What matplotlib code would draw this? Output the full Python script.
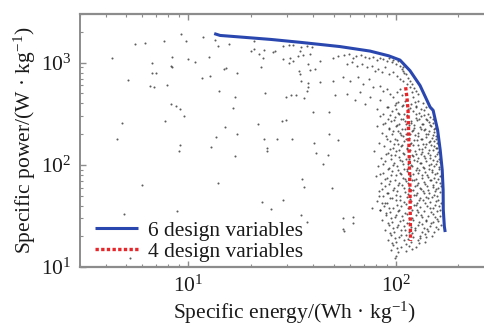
import matplotlib
matplotlib.use("Agg")
import matplotlib.pyplot as plt
from matplotlib.ticker import LogLocator, NullFormatter

plt.rcParams['font.family'] = ['Liberation Serif', 'DejaVu Serif']
plt.rcParams['mathtext.fontset'] = 'custom'
plt.rcParams['mathtext.rm'] = 'Liberation Serif'
plt.rcParams['mathtext.it'] = 'Liberation Serif:italic'
plt.rcParams['mathtext.bf'] = 'Liberation Serif:bold'

# ---------------- data ----------------
front6_energy = [13.3, 14.2, 17.5, 25, 35, 53.6, 75, 92.2, 104.5, 116.8, 130.6, 146, 151,
                 158.7, 163.3, 167, 168.7, 169, 171, 172.6]
front6_power = [1930, 1850, 1790, 1690, 1580, 1440, 1300, 1169, 1062, 836, 598, 368, 342,
                219, 140, 89.4, 57.1, 36.5, 25, 22]

front4_energy = [111.3, 113, 114.3, 115.5, 116.8, 117.5]
front4_power = [576, 450, 342, 150, 57, 18]

# sparse part of the cloud (left / top)
sparse_energy = [4.3, 5.5, 6.2, 7.6, 9.2, 9.7, 11.8, 13.4, 13.9, 15.7, 8.3, 9.9, 10.7, 12.6,
                 6.7, 8.2, 8.3, 6.7, 7.0, 5.1, 11.6, 12.7, 14.8, 15.2, 17.1, 6.5, 6.8, 7.9,
                 14.1, 16.7, 8.2, 8.7, 9.1, 16.4, 9.5, 7.7, 4.8, 15.0, 17.2, 13.6, 4.5, 9.1,
                 9.0, 12.9, 16.7, 13.8, 6.0, 4.9, 8.8, 5.2,
                 20.8, 20.1, 20.6, 21.9, 23, 22.9, 25.4, 26, 28.5, 30.4, 31.9, 34.7, 37.1,
                 39.2, 34.3, 28.5, 30.8, 31.9, 30.5, 33.7, 35.7, 38.5, 37.7, 43, 22.4, 34.1,
                 34.3, 38.5, 40.6, 35, 37.7, 37.7, 37.1, 43, 49.8, 49.8, 52.6, 50.7, 23.5,
                 29.6, 31.1, 33.1, 35.9, 39.8, 47.6, 28.3, 29.6, 21.6, 23, 26.7, 31.7, 40.2,
                 47.6, 23.9, 52.6, 23.8, 41.1, 47.1, 44.6, 35.2, 35.9, 48.9, 22.7, 28.5,
                 25.1, 35, 37.1, 55.6, 61.8, 62.2, 55.3, 56, 76.4, 83.7, 85.3, 83, 98.9]
sparse_power = [1125, 1520, 1570, 1640, 1900, 1640, 1800, 1670, 1470, 1520, 1150, 1080, 1015,
                1150, 985, 935, 900, 800, 800, 675, 710, 745, 860, 890, 795, 590, 580, 600,
                525, 460, 390, 380, 350, 357, 300, 270, 255, 235, 200, 186, 178, 157,
                136, 148, 122, 67, 63, 33, 35, 12.3,
                1640, 1310, 1360, 1215, 1340, 1125, 1280, 1310, 1460, 1500, 1500, 1410, 1460,
                1410, 1290, 1085, 1125, 1045, 1005, 1170, 1195, 1215, 970, 1045, 915, 825,
                777, 850, 870, 668, 635, 575, 534, 644, 1125, 668, 1170, 479, 503,
                460, 479, 479, 454, 329, 329, 269, 278, 254, 181, 180, 180, 165,
                199, 145, 175, 138, 132, 124, 102, 72.6, 60.7, 58.9, 43, 45.7,
                37.2, 32.2, 27.8, 30.4, 30.8, 26.7, 23.8, 22.5, 38, 36.5, 42.5, 49.2, 12.2]

# upper part of the dense cloud (near the knee of the front)
upper_energy = [56.0, 59.5, 61.8, 64.1, 67.5, 70.9, 74.3, 77.7, 80.7, 83.7, 86.8, 90.2, 92.8,
                95.3, 97, 100, 102.6, 104.5, 108.4, 108, 106.9, 111.7, 109.3, 114.3, 116.8,
                119.4, 122.1, 124.9, 127.7,
                57.8, 61.1, 64.6, 68.3, 72.2, 76.3, 79.2, 82.1, 85.3, 88.5, 92.8, 97, 100.8,
                104.5, 108.4, 112.6, 116.8, 119, 121.2, 123.5, 124.9, 55.6, 60, 65.7, 69.6,
                74.3, 77.7, 83.7, 86.8, 90.2, 93.5, 97, 100.8, 104.5, 106.5, 102.6, 98.9,
                108.4, 112.6, 114.3, 83.7, 74.9, 67, 63.4, 57.8, 70.9, 80.7, 90.2]
upper_power = [1195, 1215, 1125, 1170, 1195, 1145, 1110, 1145, 1060, 1125, 1085, 1045, 1110,
               1007, 1062, 972, 1030, 935, 900, 836, 874, 773, 800, 715, 668,
               618, 572, 534, 494,
               972, 1007, 935, 972, 900, 935, 836, 868, 806, 900, 777, 806, 748,
               694, 668, 621, 576, 514, 460, 411, 368, 720, 668, 720, 621,
               694, 576, 598, 534, 555, 497, 460, 514, 555, 478, 411, 382,
               382, 427, 355, 427, 460, 514, 427, 497, 397, 355, 368]

# middle part of the dense cloud
middle_energy = [100.0, 110.5, 118.1, 127.7, 135.1,
                 91.5, 100.0, 106.9, 116.8, 124.9, 132.1, 139.7,
                 86.5, 95.7, 102.3, 109.3, 120.8, 129.2, 136.6, 142.8,
                 83.7, 91.5, 98.9, 105.7, 113.0, 124.9, 132.1, 139.7, 146.0,
                 88.5, 94.6, 103.4, 110.5, 118.1, 126.3, 135.1, 144.4, 151.0,
                 81.0, 92.5, 100.0, 106.9, 115.5, 122.1, 130.6, 138.1, 147.7, 154.4,
                 85.6, 96.7, 104.5, 111.8, 119.5, 127.7, 136.6, 142.8, 152.7,
                 89.5, 98.9, 108.1, 115.5, 123.5, 132.1, 139.7, 149.3, 156.1,
                 82.8, 93.5, 102.3, 109.3, 118.1, 126.3, 135.1, 144.4, 152.7, 157.9,
                 87.5, 96.7, 105.7, 113.0, 120.8, 129.2, 138.1, 147.7, 156.1,
                 78.3, 91.5, 100.0, 108.1, 116.8, 124.9, 133.6, 142.8, 151.0, 159.7,
                 84.6, 94.6, 103.4, 111.8, 119.5, 127.7, 136.6, 146.0, 154.4,
                 88.5, 97.8, 106.9, 114.3, 122.1, 130.6, 139.7, 147.7, 157.9, 163.3,
                 81.9, 92.5, 101.1, 109.3, 118.1, 126.3, 135.1, 144.4, 152.7, 161.5,
                 86.5, 95.7, 104.5, 113.0, 120.8, 129.2, 138.1, 149.3, 157.9,
                 80.1, 90.5, 100.0, 108.1, 116.8, 124.9, 133.6, 142.8, 152.7, 163.3,
                 84.6, 93.5, 103.4, 111.8, 119.5, 127.7, 136.6, 146.0, 156.1,
                 88.5, 97.8, 106.9, 115.5, 123.5, 132.1, 141.2, 151.0, 159.7, 165.1]
middle_power = [400, 425, 395, 418, 404,
                372, 355, 380, 360, 374, 352, 368,
                318, 340, 325, 312, 336, 322, 342, 315,
                300, 284, 297, 280, 305, 288, 299, 283, 294,
                255, 270, 250, 266, 258, 272, 252, 264, 257,
                240, 228, 238, 225, 243, 230, 236, 226, 241, 232,
                203, 216, 206, 200, 214, 204, 218, 201, 211,
                192, 180, 190, 183, 195, 179, 189, 184, 193,
                163, 172, 160, 170, 165, 174, 161, 168, 171, 162,
                154, 145, 152, 147, 157, 144, 151, 155, 146,
                138, 130, 137, 131, 140, 129, 135, 132, 139, 133,
                117, 124, 119, 115, 125, 118, 122, 116, 123,
                110, 104, 109, 103, 111, 105, 108, 102, 110, 106,
                98, 93, 97, 92, 99, 94, 96, 91, 98, 95,
                83, 88, 84, 87, 82, 89, 85, 86, 83,
                78, 74, 79, 75, 77, 73, 80, 76, 74, 78,
                67, 70, 66, 69.5, 71, 66.5, 68, 70.5, 67.5,
                62, 59.5, 63, 60, 61.5, 58.5, 62.5, 60.5, 59, 62]

# lower part of the dense cloud
lower_energy = [82.8, 91.5, 101.1, 110.5, 118.1, 126.3, 135.1, 144.4, 154.4, 163.3,
                86.5, 95.7, 104.5, 113.0, 122.1, 130.6, 139.7, 149.3, 157.9,
                81.0, 90.5, 100.0, 109.3, 118.1, 126.3, 135.1, 146.0, 156.1, 165.1,
                87.5, 96.7, 105.7, 114.3, 122.1, 130.6, 141.2, 151.0, 161.5,
                83.7, 93.5, 102.3, 110.5, 119.5, 127.7, 136.6, 147.7, 157.9,
                89.5, 98.9, 106.9, 115.5, 124.9, 133.6, 142.8, 154.4, 163.3,
                85.6, 95.7, 104.5, 113.0, 120.8, 129.2, 139.7, 151.0, 159.7,
                92.5, 101.1, 109.3, 118.1, 127.7, 136.6, 146.0, 156.1, 165.1,
                88.5, 97.8, 105.7, 115.5, 123.5, 133.6, 142.8, 152.7,
                94.6, 103.4, 111.8, 120.8, 130.6, 139.7, 149.3,
                91.5, 100.0, 109.3, 118.1, 127.7, 138.1,
                96.7, 105.7, 115.5, 124.9,
                94.6, 102.3, 111.8,
                100.0]
lower_power = [56, 53, 55.5, 54, 56.5, 53.5, 55, 52.5, 56, 54,
               50, 47.5, 49.5, 48, 50.5, 47, 49, 48.5, 50,
               44.5, 42.5, 45, 43, 44, 42, 45.5, 43.5, 44, 42.8,
               40, 38.2, 39.5, 38, 40.3, 38.5, 39.8, 37.8, 40,
               35.8, 34.2, 35.5, 34, 36, 34.5, 35.2, 34.8, 35.6,
               32, 30.6, 31.8, 30.5, 32.2, 30.8, 31.5, 30.9, 31.9,
               28.6, 27.4, 28.4, 27.2, 28.8, 27.5, 28.2, 27.8, 28.5,
               25.6, 24.4, 25.4, 24.5, 25.8, 24.3, 25.2, 24.7, 25.5,
               22.9, 21.9, 22.8, 22, 23, 21.8, 22.6, 22.2,
               20.5, 19.6, 20.4, 19.5, 20.3, 19.8, 20.2,
               18.3, 17.5, 18.2, 17.6, 18.4, 17.7,
               16.3, 15.7, 16.2, 15.8,
               14.6, 14.0, 14.5,
               12.9]

# extra points filling the densest band just inside the front
band_energy = [93.5, 103.4, 113.0, 124.9, 136.6,
               97.8, 108.1, 118.1, 129.2, 141.2, 151.0,
               86.5, 101.1, 111.8, 122.1, 133.6, 146.0,
               92.5, 102.3, 110.5, 120.8, 132.1, 144.4, 152.7,
               95.7, 105.7, 116.8, 127.7, 139.7, 151.0,
               90.5, 101.1, 111.8, 122.1, 133.6, 146.0, 156.1,
               97.8, 106.9, 116.8, 127.7, 139.7, 152.7,
               93.5, 103.4, 113.0, 123.5, 133.6, 144.4, 157.9,
               89.5, 98.9, 109.3, 120.8, 132.1, 146.0, 157.9,
               94.6, 104.5, 115.5, 126.3, 138.1, 151.0, 161.5,
               86.5, 96.7, 108.1, 119.5, 132.1, 144.4, 156.1,
               91.5, 102.3, 113.0, 124.9, 136.6, 149.3, 161.5,
               83.7, 94.6, 105.7, 116.8, 127.7, 141.2, 154.4,
               88.5, 98.9, 110.5, 122.1, 133.6, 147.7, 159.7,
               92.5, 102.3, 114.3, 126.3, 138.1, 151.0, 163.3,
               85.6, 96.7, 109.3, 120.8, 130.6, 142.8, 156.1,
               90.5, 100.0, 114.3, 124.9, 136.6, 152.7,
               93.5, 104.5, 116.8, 129.2, 142.8, 159.7,
               88.5, 101.1, 111.8, 124.9, 138.1, 154.4,
               92.5, 103.4, 115.5, 126.3, 146.0, 163.3,
               89.5, 100.0, 113.0, 132.1, 151.0,
               94.6, 108.1, 119.5, 139.7, 157.9,
               91.5, 102.3, 115.5, 133.6, 147.7,
               96.7, 110.5, 123.5, 141.2, 159.7,
               93.5, 105.7, 119.5, 138.1,
               98.9, 114.3, 130.6,
               95.7, 111.8, 129.2,
               101.1, 119.5]
band_power = [305, 315, 302, 312, 308,
              272, 281, 270, 279, 274, 283,
              250, 243, 252, 245, 249, 244,
              224, 217, 226, 219, 223, 216, 222,
              200, 194, 199, 193, 201, 196,
              180, 174, 179, 175, 181, 173, 178,
              160, 155, 159, 156, 161, 154,
              143, 139, 144, 138, 142, 140, 145,
              128, 124, 129, 123, 127, 125, 128,
              115, 111, 114, 110, 116, 112, 114,
              103, 99, 102, 98.5, 103.5, 100, 102,
              92, 89, 91.5, 88.5, 92.5, 89.5, 91,
              82, 79.5, 81.5, 79, 82.5, 80, 81,
              73.5, 71, 73, 70.5, 74, 71.5, 72.5,
              65.5, 63.5, 66, 63, 65, 64, 66,
              58.5, 57, 59, 56.5, 58.8, 57.2, 58.2,
              52.5, 50.8, 52.2, 50.5, 52.8, 51,
              47, 45.5, 46.8, 45.3, 47.2, 45.8,
              42, 40.6, 41.8, 40.5, 42.2, 40.8,
              37.5, 36.3, 37.4, 36.2, 37.6, 36.5,
              33.5, 32.5, 33.4, 32.4, 33.3,
              30, 29, 29.9, 29.1, 29.8,
              26.9, 26, 26.8, 26.1, 26.7,
              24, 23.2, 23.9, 23.3, 23.8,
              21.5, 20.8, 21.4, 20.9,
              19.2, 18.7, 19.1,
              17.2, 16.7, 17.1,
              15.3, 14.9]

x_limits = (3, 300)
y_limits = (10, 3000)
legend_labels = ["6 design variables", "4 design variables"]
x_label = "Specific energy/(Wh · kg$^{-1}$)"
y_label = "Specific power/(W · kg$^{-1}$)"

# ---------------- figure ----------------
W, H = 485, 325
fig = plt.figure(figsize=(W / 100, H / 100), dpi=100)
ax_l, ax_r, ax_t, ax_b = 80, 495, 14, 267
ax = fig.add_axes([ax_l / W, 1 - ax_b / H, (ax_r - ax_l) / W, (ax_b - ax_t) / H])
ax.set_xscale('log')
ax.set_yscale('log')
ax.set_xlim(*x_limits)
ax.set_ylim(*y_limits)

dot_kw = dict(s=2.2, c='#333333', alpha=0.8, linewidths=0, zorder=2)
for ex, py in [(sparse_energy, sparse_power), (upper_energy, upper_power),
               (middle_energy, middle_power), (lower_energy, lower_power),
               (band_energy, band_power)]:
    ax.scatter(ex, py, **dot_kw)

ax.plot(front6_energy, front6_power, color='#2a47b0', lw=2.2, solid_capstyle='butt',
        zorder=4, label=legend_labels[0])
ax.plot(front4_energy, front4_power, color='#e8262a', lw=2.4, ls=(0, (1, 0.7)),
        zorder=3, label=legend_labels[1])

spine_c = '#8c8c8c'
for side, sp in ax.spines.items():
    sp.set_color(spine_c)
    sp.set_linewidth(1.6)
ax.spines['left'].set_linewidth(1.4)

ax.xaxis.set_major_locator(LogLocator(base=10, numticks=10))
ax.xaxis.set_minor_locator(LogLocator(base=10, subs=range(2, 10), numticks=10))
ax.yaxis.set_major_locator(LogLocator(base=10, numticks=10))
ax.yaxis.set_minor_locator(LogLocator(base=10, subs=range(2, 10), numticks=10))
ax.xaxis.set_minor_formatter(NullFormatter())
ax.yaxis.set_minor_formatter(NullFormatter())
ax.tick_params(which='both', direction='in', top=True, right=True, color=spine_c,
               labelsize=15.5, labelcolor='#1a1a1a')
ax.tick_params(which='major', length=4, width=1.0, pad=6)
ax.tick_params(which='minor', length=2.5, width=0.8)

ax.set_xlabel(x_label, fontsize=15.5, color='#1a1a1a')
ax.set_ylabel(y_label, fontsize=15.5, color='#1a1a1a')
ax.xaxis.set_label_coords((294.5 - ax_l) / (ax_r - ax_l), -(300 - ax_b) / (ax_b - ax_t))
ax.yaxis.set_label_coords((38 - ax_l) / (ax_r - ax_l), 0.5)

leg = ax.legend(loc='lower left', bbox_to_anchor=(95 / W, 1 - 262 / H),
                bbox_transform=fig.transFigure, frameon=False, fontsize=15.5,
                handlelength=2.0, handletextpad=0.45, labelspacing=0.05,
                borderaxespad=0, borderpad=0)
for t in leg.get_texts():
    t.set_color('#1a1a1a')

fig.savefig('out.png', dpi=100)
